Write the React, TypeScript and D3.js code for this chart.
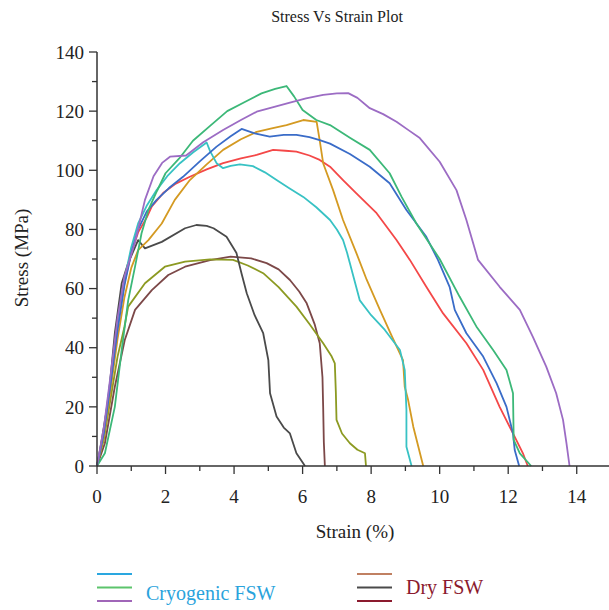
import React, { useEffect, useRef } from 'react';
import * as d3 from 'd3';

type Pt = [number, number];

// strain (%), stress (MPa)
const cryoBlue: Pt[] = [
    [0, 0], [0.2, 11], [0.4, 28], [0.6, 46], [0.8, 61], [1.0, 72], [1.2, 80], [1.45, 86], [1.74, 90],
    [2.1, 94], [2.51, 97.8], [3.0, 103], [3.49, 108], [3.9, 111.5], [4.22, 114], [4.6, 112.5],
    [5.04, 111.4], [5.45, 112], [5.82, 112], [6.2, 111.2], [6.5, 110.2], [6.8, 109], [7.38, 105.5],
    [7.96, 101.2], [8.54, 95.6], [9.03, 86.6], [9.61, 77.5], [9.95, 69.7], [10.29, 60.6], [10.44, 52.8],
    [10.78, 44.9], [11.27, 37], [11.66, 28], [11.95, 20], [12.14, 11], [12.19, 5.4], [12.32, 0]
];
const cryoGreen: Pt[] = [
    [0, 0], [0.23, 4.3], [0.52, 20], [0.72, 39.2], [0.91, 56], [1.11, 67.4], [1.3, 78.7], [1.5, 86.6],
    [1.75, 93], [2.0, 99], [2.4, 104], [2.8, 110], [3.3, 115], [3.8, 120], [4.3, 123], [4.8, 126],
    [5.2, 127.5], [5.53, 128.5], [5.75, 125], [6.0, 120.4], [6.4, 117], [6.8, 115.3], [7.38, 111],
    [7.96, 106.9], [8.54, 99], [8.89, 91], [9.32, 82], [10.0, 70], [10.58, 57.3], [11.07, 47.2],
    [11.56, 39.2], [11.95, 32.5], [12.14, 24.6], [12.16, 8.8], [12.34, 4.3], [12.67, 0]
];
const cryoPurple: Pt[] = [
    [0, 0], [0.2, 13], [0.4, 31], [0.6, 50], [0.8, 64], [1.1, 75.3], [1.4, 90], [1.65, 98],
    [1.9, 102.5], [2.13, 104.6], [2.6, 105], [3.1, 109.5], [3.68, 113.6], [4.2, 117], [4.66, 119.8],
    [5.2, 121.5], [5.63, 122.9], [6.1, 124.3], [6.6, 125.5], [7.0, 126], [7.33, 126.1], [7.6, 124.5],
    [7.96, 121], [8.35, 119], [8.74, 116.4], [9.1, 113.5], [9.42, 110.9], [10.0, 102.9], [10.49, 93.3],
    [10.78, 83.2], [11.12, 69.7], [11.75, 60.6], [12.34, 52.8], [12.72, 43.7], [13.11, 33.6],
    [13.4, 24.6], [13.6, 15.6], [13.7, 7.7], [13.79, 0]
];
const cryoCyan: Pt[] = [
    [0, 0], [0.2, 12], [0.4, 30], [0.6, 48], [0.8, 63], [1.0, 74], [1.2, 82], [1.45, 88],
    [1.74, 93.3], [2.05, 98], [2.42, 102.4], [2.8, 106], [3.2, 109.4], [3.3, 106.5], [3.49, 102.4],
    [3.68, 100.7], [3.9, 101.5], [4.17, 102], [4.55, 101.4], [4.9, 99.3], [5.24, 96.7], [5.6, 94],
    [6.02, 91], [6.4, 87.5], [6.8, 83.2], [7.0, 80], [7.18, 76.4], [7.3, 72], [7.38, 68.6],
    [7.67, 56], [8.0, 51], [8.4, 46], [8.84, 39.2], [8.98, 32.5], [9.03, 19], [9.03, 6.5], [9.18, 0]
];
const dryOrange: Pt[] = [
    [0, 0], [0.2, 10], [0.4, 26], [0.6, 43], [0.8, 57], [1.0, 67], [1.2, 73], [1.5, 76.4],
    [1.89, 82], [2.27, 90], [2.71, 96.7], [3.2, 102], [3.68, 106.9], [4.2, 110.5], [4.66, 113],
    [5.1, 114.2], [5.53, 115.3], [6.02, 117], [6.41, 116.4], [6.5, 110], [6.6, 102.4], [6.89, 93.3],
    [7.18, 83.2], [7.57, 72], [7.87, 63], [8.25, 53], [8.6, 44], [8.93, 35.8], [8.98, 26.8],
    [9.08, 22.3], [9.23, 13.3], [9.52, 0]
];
const dryRed: Pt[] = [
    [0, 0], [0.2, 12], [0.4, 29], [0.6, 47], [0.8, 62], [1.0, 72], [1.2, 79], [1.45, 84],
    [1.6, 87.8], [1.93, 92.3], [2.3, 95.5], [2.71, 97.8], [3.2, 100.3], [3.68, 102.4], [4.2, 104],
    [4.66, 105.2], [5.14, 106.9], [5.5, 106.6], [5.82, 106.3], [6.2, 105], [6.5, 103.5], [6.8, 101.2],
    [7.18, 96.7], [7.57, 92.2], [8.16, 85.5], [8.74, 76.4], [9.13, 69.7], [9.61, 60.6], [10.1, 51.6],
    [10.78, 41.5], [11.27, 32.5], [11.75, 20], [12.14, 11], [12.43, 4.3], [12.57, 0]
];
const dryGray: Pt[] = [
    [0, 0], [0.04, 2], [0.33, 22.3], [0.52, 44.9], [0.72, 61.8], [0.91, 68.6], [1.2, 76.4],
    [1.4, 73.6], [1.89, 75.8], [2.57, 80.4], [2.9, 81.5], [3.2, 81.2], [3.4, 80.4], [3.78, 77.5],
    [4.07, 72], [4.22, 65], [4.37, 58.4], [4.6, 51], [4.85, 44.9], [5.0, 35.8], [5.05, 24.6],
    [5.24, 16.7], [5.45, 13], [5.63, 11], [5.82, 4.3], [6.07, 0]
];
const dryOlive: Pt[] = [
    [0, 0], [0.2, 9], [0.4, 23], [0.6, 37], [0.8, 47], [0.91, 53.9], [1.4, 61.8], [1.98, 67.4],
    [2.57, 69.1], [3.3, 69.9], [3.97, 69.7], [4.4, 67.8], [4.85, 65.2], [5.3, 60.5], [5.82, 53.9],
    [6.2, 48], [6.6, 41.5], [6.85, 37], [6.94, 34.7], [6.97, 25], [6.99, 15.6], [7.15, 11],
    [7.38, 7.7], [7.6, 5.5], [7.82, 4.3], [7.85, 0]
];
const dryMaroon: Pt[] = [
    [0, 0], [0.23, 7.7], [0.52, 26.8], [0.81, 42.6], [1.11, 52.8], [1.6, 59.5], [2.08, 64.6],
    [2.57, 67.4], [3.3, 69.6], [3.9, 70.8], [4.5, 70.2], [4.95, 68.6], [5.3, 66.5], [5.63, 62.9],
    [5.9, 59], [6.12, 55], [6.35, 48], [6.5, 41.5], [6.58, 30], [6.6, 20], [6.62, 8], [6.65, 0]
];

const curves = [
    { name: 'dryMaroon', values: dryMaroon, color: '#7c4848' },
    { name: 'dryOlive', values: dryOlive, color: '#8c9a22' },
    { name: 'dryGray', values: dryGray, color: '#4a4a4a' },
    { name: 'dryRed', values: dryRed, color: '#f44848' },
    { name: 'dryOrange', values: dryOrange, color: '#d49a22' },
    { name: 'cryoCyan', values: cryoCyan, color: '#38c2c4' },
    { name: 'cryoBlue', values: cryoBlue, color: '#3a6cc8' },
    { name: 'cryoGreen', values: cryoGreen, color: '#3cb878' },
    { name: 'cryoPurple', values: cryoPurple, color: '#9c6cc4' }
];

const xTicks = [0, 2, 4, 6, 8, 10, 12, 14];
const xMinor = [1, 3, 5, 7, 9, 11, 13];
const yTicks = [0, 20, 40, 60, 80, 100, 120, 140];
const yMinor = [10, 30, 50, 70, 90, 110, 130];

const legendGroups = [
    { label: 'Cryogenic FSW', textColor: '#2aa3dc', lines: ['#2aa7e0', '#5cc46c', '#a066b8'] },
    { label: 'Dry FSW', textColor: '#8b1a2e', lines: ['#c08062', '#4a4a4a', '#8b1a2e'] }
];

const FONT = '"Liberation Serif", "DejaVu Serif", serif';

const App = () => {
    const svgRef = useRef<SVGSVGElement>(null);

    useEffect(() => {
        if (!svgRef.current) return;
        const width = 609;
        const height = 610;
        const svg = d3.select(svgRef.current).attr('width', width).attr('height', height);
        svg.selectAll('*').remove();

        const x = d3.scaleLinear().domain([0, 15]).range([97, 611]);
        const y = d3.scaleLinear().domain([0, 140]).range([466, 52]);
        const axisColor = '#333';

        // Title
        svg.append('text')
            .attr('x', 337).attr('y', 22)
            .attr('text-anchor', 'middle')
            .attr('font-family', FONT).attr('font-size', 16)
            .attr('fill', '#222')
            .text('Stress Vs Strain Plot');

        // Curves
        const line = d3.line<Pt>().x(d => x(d[0])).y(d => y(d[1]));
        svg.append('g').selectAll('path')
            .data(curves)
            .enter()
            .append('path')
            .attr('d', d => line(d.values))
            .attr('fill', 'none')
            .attr('stroke', d => d.color)
            .attr('stroke-width', 1.8)
            .attr('stroke-linejoin', 'round');

        // X axis
        const gx = svg.append('g').attr('transform', `translate(0, ${y(0)})`);
        gx.append('line').attr('x1', x(0)).attr('x2', width).attr('stroke', axisColor).attr('stroke-width', 1.5);
        gx.selectAll('.maj').data(xTicks).enter().append('line')
            .attr('x1', d => x(d)).attr('x2', d => x(d)).attr('y1', 0).attr('y2', 8)
            .attr('stroke', axisColor).attr('stroke-width', 1.3);
        gx.selectAll('.min').data(xMinor).enter().append('line')
            .attr('x1', d => x(d)).attr('x2', d => x(d)).attr('y1', 0).attr('y2', 5)
            .attr('stroke', axisColor).attr('stroke-width', 1.3);
        gx.selectAll('text').data(xTicks).enter().append('text')
            .attr('x', d => x(d)).attr('y', 37)
            .attr('text-anchor', 'middle')
            .attr('font-family', FONT).attr('font-size', 19).attr('fill', '#222')
            .text(d => d);

        // Y axis
        const gy = svg.append('g').attr('transform', `translate(${x(0)}, 0)`);
        gy.append('line').attr('y1', y(0)).attr('y2', y(140)).attr('stroke', axisColor).attr('stroke-width', 1.5);
        gy.selectAll('.maj').data(yTicks).enter().append('line')
            .attr('y1', d => y(d)).attr('y2', d => y(d)).attr('x1', 0).attr('x2', -8)
            .attr('stroke', axisColor).attr('stroke-width', 1.3);
        gy.selectAll('.min').data(yMinor).enter().append('line')
            .attr('y1', d => y(d)).attr('y2', d => y(d)).attr('x1', 0).attr('x2', -5)
            .attr('stroke', axisColor).attr('stroke-width', 1.3);
        gy.selectAll('text').data(yTicks).enter().append('text')
            .attr('x', -13).attr('y', d => y(d))
            .attr('dy', '0.35em')
            .attr('text-anchor', 'end')
            .attr('font-family', FONT).attr('font-size', 19).attr('fill', '#222')
            .text(d => d);

        // Axis titles
        svg.append('text')
            .attr('x', 355).attr('y', 538)
            .attr('text-anchor', 'middle')
            .attr('font-family', FONT).attr('font-size', 19).attr('fill', '#222')
            .text('Strain (%)');
        svg.append('text')
            .attr('transform', 'translate(28, 258) rotate(-90)')
            .attr('text-anchor', 'middle')
            .attr('font-family', FONT).attr('font-size', 19).attr('fill', '#222')
            .text('Stress (MPa)');

        // Legend
        const legendX = [97, 357];
        const legendTextY = [600, 594];
        legendGroups.forEach((g, i) => {
            const lg = svg.append('g');
            g.lines.forEach((c, j) => {
                lg.append('line')
                    .attr('x1', legendX[i]).attr('x2', legendX[i] + 35)
                    .attr('y1', 574 + j * 13.5).attr('y2', 574 + j * 13.5)
                    .attr('stroke', c).attr('stroke-width', 1.8);
            });
            lg.append('text')
                .attr('x', legendX[i] + 49).attr('y', legendTextY[i])
                .attr('font-family', FONT).attr('font-size', 20)
                .attr('fill', g.textColor)
                .text(g.label);
        });
    }, []);

    return (
        <svg ref={svgRef} style={{ position: 'absolute', left: 0, top: 0, background: '#fff' }} />
    );
};

export default App;
